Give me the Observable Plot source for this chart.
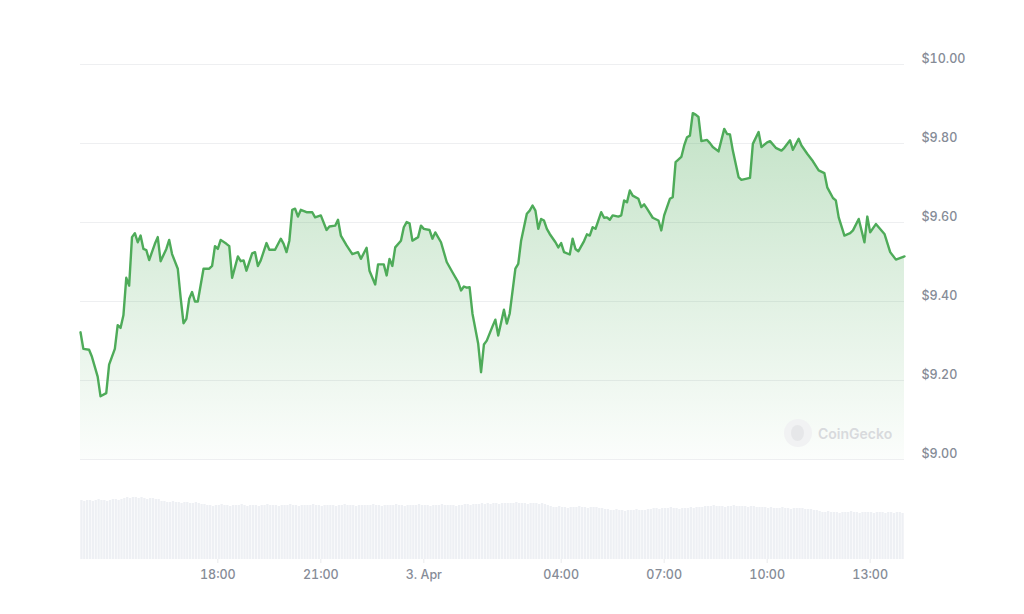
<!DOCTYPE html>
<html>
<head>
<meta charset="utf-8">
<script src="https://cdn.jsdelivr.net/npm/d3@7"></script>
<script src="https://cdn.jsdelivr.net/npm/@observablehq/plot@0.6"></script>
<style>
  body { margin: 0; background: #fff; }
  #wrap { position: relative; width: 1024px; height: 614px; overflow: hidden; font-family: Inter, sans-serif; }
  #price { position: absolute; left: 0; top: 0; }
  #volume { position: absolute; left: 0; top: 480px; }
  #wm { position: absolute; left: 784px; top: 419px; display: flex; align-items: center; gap: 6px;
        color: #d8dadd; font: 600 14px Inter, sans-serif; }
  #wm .logo { width: 28px; height: 28px; border-radius: 50%; background: #f1f2f3; position: relative; }
  #wm .logo::after { content: ""; position: absolute; left: 7px; top: 6px; width: 13px; height: 16px;
        border-radius: 50%; background: #e6e7e9; }
</style>
</head>
<body>
<div id="wrap">
  <div id="price"></div>
  <div id="volume"></div>
  <div id="wm"><span class="logo"></span><span>CoinGecko</span></div>
</div>
<script>
// Start of the 24h window (UTC): 2 Apr 14:00
const startTime = Date.UTC(2024, 3, 2, 14, 0);

// Price samples: minutes after start, USD price
const minutes = [0,5,15,20,30,35,45,50,60,65,70,75,80,85,90,95,100,105,110,115,120,130,135,140,150,155,160,170,175,180,185,190,195,200,205,215,225,230,235,240,245,255,260,265,270,275,280,285,290,295,300,305,310,315,325,330,340,350,355,360,365,370,375,380,385,395,405,410,420,430,435,445,450,455,465,475,485,490,500,505,515,520,530,535,540,545,550,560,565,570,575,580,590,595,600,610,615,620,630,640,650,660,665,670,675,680,685,695,700,705,710,720,725,730,740,745,750,760,765,770,780,785,790,795,800,805,810,815,820,830,835,840,845,855,860,865,870,880,885,890,895,900,910,915,920,925,930,940,945,950,955,960,965,975,980,985,990,1000,1010,1015,1020,1030,1035,1040,1050,1055,1060,1065,1070,1075,1080,1085,1095,1100,1105,1115,1125,1130,1135,1140,1150,1155,1170,1175,1185,1190,1200,1205,1215,1225,1230,1240,1245,1255,1260,1270,1280,1290,1300,1305,1315,1320,1325,1335,1345,1350,1360,1370,1375,1380,1390,1405,1415,1425,1440];
const prices = [9.322,9.28,9.278,9.26,9.21,9.16,9.168,9.24,9.28,9.34,9.333,9.365,9.46,9.44,9.563,9.573,9.55,9.567,9.533,9.53,9.505,9.546,9.563,9.502,9.533,9.556,9.52,9.483,9.41,9.345,9.356,9.407,9.424,9.40,9.40,9.483,9.483,9.49,9.54,9.533,9.556,9.546,9.54,9.46,9.487,9.514,9.502,9.504,9.478,9.50,9.522,9.525,9.49,9.504,9.548,9.531,9.531,9.559,9.546,9.525,9.554,9.632,9.635,9.615,9.632,9.626,9.626,9.613,9.618,9.581,9.59,9.592,9.607,9.567,9.542,9.52,9.525,9.508,9.536,9.478,9.443,9.494,9.494,9.466,9.508,9.49,9.537,9.554,9.588,9.601,9.598,9.554,9.563,9.592,9.584,9.581,9.559,9.575,9.55,9.50,9.474,9.449,9.428,9.438,9.435,9.436,9.369,9.293,9.221,9.291,9.301,9.337,9.354,9.314,9.379,9.344,9.369,9.483,9.495,9.554,9.622,9.63,9.643,9.63,9.584,9.609,9.605,9.584,9.571,9.55,9.537,9.548,9.525,9.519,9.559,9.533,9.527,9.553,9.57,9.567,9.588,9.584,9.626,9.612,9.613,9.607,9.618,9.615,9.618,9.656,9.651,9.681,9.668,9.66,9.639,9.646,9.635,9.612,9.605,9.58,9.618,9.66,9.664,9.753,9.766,9.795,9.816,9.82,9.877,9.873,9.867,9.806,9.809,9.801,9.791,9.78,9.837,9.824,9.823,9.782,9.715,9.708,9.713,9.799,9.829,9.791,9.803,9.806,9.789,9.782,9.789,9.808,9.784,9.812,9.795,9.774,9.755,9.732,9.725,9.689,9.662,9.656,9.613,9.567,9.573,9.58,9.609,9.55,9.615,9.575,9.596,9.571,9.525,9.506,9.514];

// Volume, one bar per 5 minutes (arbitrary units)
const volumes = [
  5.9,5.8,5.9,5.9,5.8,5.9,6.0,5.9,5.9,5.8,5.9,6.0,6.0,5.9,6.0,6.1,
  6.2,6.1,6.2,6.2,6.1,6.2,6.1,6.0,6.1,6.1,6.0,6.0,
  5.8,5.8,5.7,5.7,5.8,5.7,5.7,5.6,5.7,5.7,5.6,5.6,5.7,5.6,5.5,5.5,
  5.4,5.4,5.3,5.4,5.4,5.5,5.4,5.4,5.3,5.4,5.4,5.4,5.5,5.4,5.3,5.4,5.4,5.4,5.3,5.4,
  5.4,5.5,5.4,5.4,5.4,5.3,5.4,5.4,5.4,5.5,5.4,5.4,5.3,5.4,5.4,5.4,5.4,5.5,5.4,5.4,
  5.3,5.4,5.4,5.4,5.4,5.3,5.4,5.4,5.5,5.4,5.4,5.4,5.3,5.4,5.4,5.4,5.4,5.4,5.5,5.4,
  5.4,5.3,5.4,5.4,5.4,5.4,5.5,5.4,5.4,5.3,5.4,5.4,5.4,5.4,5.5,5.4,5.4,5.4,5.3,5.4,
  5.4,5.4,5.5,5.4,5.4,5.4,5.4,5.3,5.4,5.4,5.5,5.5,5.4,5.5,5.5,5.5,5.6,5.5,5.6,5.5,5.6,5.6,5.5,5.6,5.6,5.6,
  5.6,5.6,5.7,5.6,5.6,5.6,5.5,5.6,5.6,5.6,5.5,5.6,5.5,5.4,5.3,
  5.2,5.2,5.3,5.2,5.2,5.1,5.2,5.2,5.2,5.3,5.2,5.2,5.1,5.2,5.2,5.2,5.1,5.1,5.0,5.0,
  4.9,4.9,5.0,4.9,4.9,4.8,4.9,4.9,4.9,5.0,4.9,4.9,4.9,5.0,5.0,
  5.1,5.1,5.0,5.1,5.1,5.1,5.2,5.1,5.1,5.0,5.1,5.1,5.1,5.2,5.1,5.2,5.2,5.2,5.3,
  5.3,5.3,5.4,5.3,5.3,5.3,5.2,5.3,5.3,5.4,5.3,5.3,5.3,5.3,5.2,5.3,5.3,5.2,5.2,5.2,5.2,5.1,5.2,
  5.1,5.1,5.1,5.2,5.1,5.1,5.0,5.1,5.1,5.1,5.1,5.0,5.0,5.0,4.9,4.9,4.8,
  4.7,4.7,4.8,4.7,4.7,4.7,4.6,4.7,4.7,4.7,4.8,4.7,4.7,4.6,4.7,4.7,4.7,4.7,4.6,4.7,4.7,4.7,4.6,4.7,4.7,4.6,4.7,4.7,4.6
];

// Axis ticks
const priceTicks = [9.0, 9.2, 9.4, 9.6, 9.8, 10.0];
const timeTicks = [
  Date.UTC(2024, 3, 2, 18), Date.UTC(2024, 3, 2, 21), Date.UTC(2024, 3, 3, 0),
  Date.UTC(2024, 3, 3, 4), Date.UTC(2024, 3, 3, 7), Date.UTC(2024, 3, 3, 10), Date.UTC(2024, 3, 3, 13)
].map(t => new Date(t));

const priceData = minutes.map((m, i) => ({ time: new Date(startTime + m * 60000), price: prices[i] }));
const volData = volumes.map((v, i) => ({
  t1: new Date(startTime + i * 5 * 60000),
  t2: new Date(startTime + (i + 1) * 5 * 60000),
  v
}));
const xDomain = [new Date(startTime), new Date(startTime + 1440 * 60000)];

const green = "#4eab59";
const labelColor = "#868c97";

function gradientDefs() {
  const defs = d3.create("svg:defs");
  const lg = defs.append("linearGradient").attr("id", "priceFill")
    .attr("x1", 0).attr("y1", 0).attr("x2", 0).attr("y2", 1);
  lg.append("stop").attr("offset", "0%").attr("stop-color", green).attr("stop-opacity", 0.34);
  lg.append("stop").attr("offset", "100%").attr("stop-color", green).attr("stop-opacity", 0.02);
  return defs.node();
}

const pricePlot = Plot.plot({
  width: 1024,
  height: 470,
  marginLeft: 80,
  marginRight: 120,
  marginTop: 64,
  marginBottom: 11,
  style: { fontFamily: "Inter, sans-serif", fontSize: "12.5px", color: labelColor, background: "transparent" },
  x: { type: "utc", domain: xDomain, axis: null },
  y: { domain: [9.0, 10.0] },
  marks: [
    gradientDefs,
    Plot.gridY(priceTicks, { stroke: "#eeeff1", strokeOpacity: 1 }),
    Plot.areaY(priceData, { x: "time", y1: 9.0, y2: "price", fill: "url(#priceFill)" }),
    Plot.lineY(priceData, { x: "time", y: "price", stroke: green, strokeWidth: 2.4, strokeLinejoin: "round" }),
    Plot.axisY(priceTicks, {
      anchor: "right", tickSize: 0, tickPadding: 17, dy: -6, fill: labelColor, fontWeight: 500,
      tickFormat: d => "$" + d.toFixed(2), label: null
    })
  ]
});
document.getElementById("price").append(pricePlot);

const volPlot = Plot.plot({
  width: 1024,
  height: 110,
  marginLeft: 80,
  marginRight: 120,
  marginTop: 10,
  marginBottom: 31,
  style: { fontFamily: "Inter, sans-serif", fontSize: "12.5px", color: labelColor, background: "transparent" },
  x: { type: "utc", domain: xDomain },
  y: { domain: [0, 6.9], axis: null },
  marks: [
    Plot.rectY(volData, { x1: "t1", x2: "t2", y: "v", fill: "#eef0f4", insetLeft: 0.3, insetRight: 0.3 }),
    Plot.axisX(timeTicks, {
      tickSize: 4, tickPadding: 7, stroke: "#e9eaec", fill: labelColor, fontWeight: 500, label: null,
      tickFormat: d => d.getUTCHours() === 0 ? `${d.getUTCDate()}. Apr` : d3.utcFormat("%H:%M")(d)
    })
  ]
});
document.getElementById("volume").append(volPlot);
</script>
</body>
</html>
